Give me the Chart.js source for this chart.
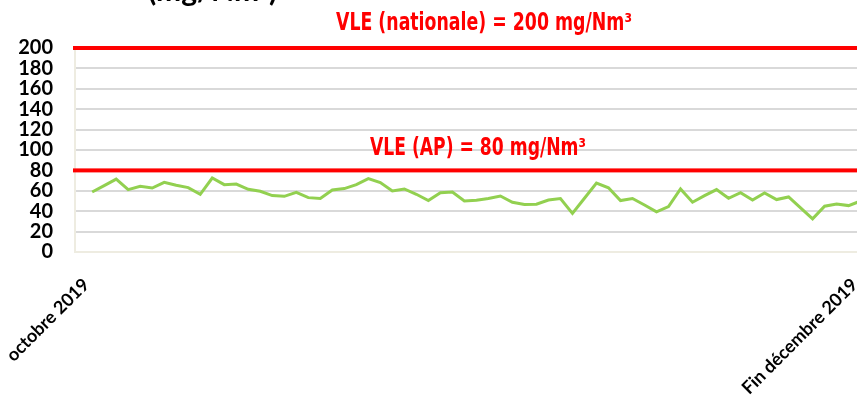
<!DOCTYPE html>
<html>
<head>
<meta charset="utf-8">
<script src="https://cdn.jsdelivr.net/npm/chart.js@4.4.0/dist/chart.umd.min.js"></script>
<style>
  html, body { margin: 0; padding: 0; background: #fff; overflow: hidden; width: 857px; height: 405px; }
  #wrap { position: absolute; left: 0; top: 0; width: 890px; height: 405px; }
</style>
</head>
<body>
<div id="wrap"><canvas id="chart"></canvas></div>
<script>
// SO2 daily values, oct -> dec 2019
const categories = ["octobre 2019", "Fin décembre 2019"];
const categoryIndexes = [0, 64];
const so2Values = [
  58.8, 65, 71.5, 61.2, 64.4, 62.7, 68.3, 65.4, 63.1, 56.6,
  72.5, 66, 66.6, 61.5, 59.5, 55.3, 54.6, 58.5, 53.3, 52.4,
  60.8, 62.2, 66, 71.9, 68, 59.8, 61.8, 56.6, 50.4, 58.2,
  58.8, 50, 50.7, 52.4, 54.9, 48.8, 46.5, 46.8, 51, 52.4,
  37.8, 52.7, 67.6, 62.9, 50.4, 52.5, 46.1, 39.3, 44.6, 61.8,
  48.8, 55.3, 61.2, 52.7, 58.2, 51, 57.9, 51.4, 54, 43.2,
  32.5, 44.9, 47.1, 45.5, 50
];
const limitValues = [200, 80];
const limitLabels = ["VLE (nationale) = 200 mg/Nm³", "VLE (AP) = 80 mg/Nm³"];
const unitTitle = "(mg/Nm³)";

const limitPlugin = {
  id: "limits",
  afterDatasetsDraw(chart) {
    const { ctx, chartArea, scales } = chart;
    const labelX = [484, 478];
    const labelW = [296, 216];
    const labelGap = [18, 15];
    ctx.save();
    limitValues.forEach((v, i) => {
      const y = scales.y.getPixelForValue(v);
      ctx.fillStyle = "#ff0000";
      ctx.fillRect(chartArea.left - 2, y - 2, chartArea.right - chartArea.left + 2, 4);
      ctx.font = "bold 24px 'DejaVu Sans'";
      ctx.textAlign = "center";
      ctx.textBaseline = "alphabetic";
      ctx.fillText(limitLabels[i], labelX[i], y - labelGap[i], labelW[i]);
    });
    ctx.fillStyle = "#000";
    ctx.font = "bold 30px Lato";
    ctx.textAlign = "left";
    ctx.fillText(unitTitle, 148, 1, 144);
    ctx.restore();
  },
};

new Chart(document.getElementById("chart"), {
  type: "line",
  data: {
    datasets: [
      {
        label: "SO2",
        data: so2Values.map((v, i) => ({ x: i, y: v })),
        borderColor: "#92d050",
        borderWidth: 3,
        pointRadius: 0,
        tension: 0,
      },
    ],
  },
  options: {
    responsive: true,
    maintainAspectRatio: false,
    animation: false,
    layout: { padding: { top: 48, bottom: 0, left: 0, right: 4 } },
    plugins: { legend: { display: false }, tooltip: { enabled: false } },
    scales: {
      x: {
        type: "linear",
        min: -1.43,
        max: 65.7,
        afterBuildTicks: (scale) => {
          scale.ticks = categoryIndexes.map((v) => ({ value: v }));
        },
        afterFit: (scale) => { scale.height = 153; },
        ticks: {
          autoSkip: false,
          minRotation: 45,
          maxRotation: 45,
          padding: 14,
          labelOffset: -6,
          color: "#000",
          font: { family: "Lato", weight: "bold", size: 18 },
          callback: (value) => categories[categoryIndexes.indexOf(value)] || "",
        },
        grid: { display: false },
        border: { color: "#eeece1", width: 2 },
      },
      y: {
        min: 0,
        max: 200,
        afterFit: (scale) => { scale.width = 75; },
        ticks: {
          stepSize: 20,
          autoSkip: false,
          padding: 22,
          color: "#000",
          font: { family: "Lato", weight: "bold", size: 20 },
        },
        grid: { color: "#d9d9d9", lineWidth: 2, drawTicks: false },
        border: { color: "#eeece1", width: 2 },
      },
    },
  },
  plugins: [limitPlugin],
});
</script>
</body>
</html>
